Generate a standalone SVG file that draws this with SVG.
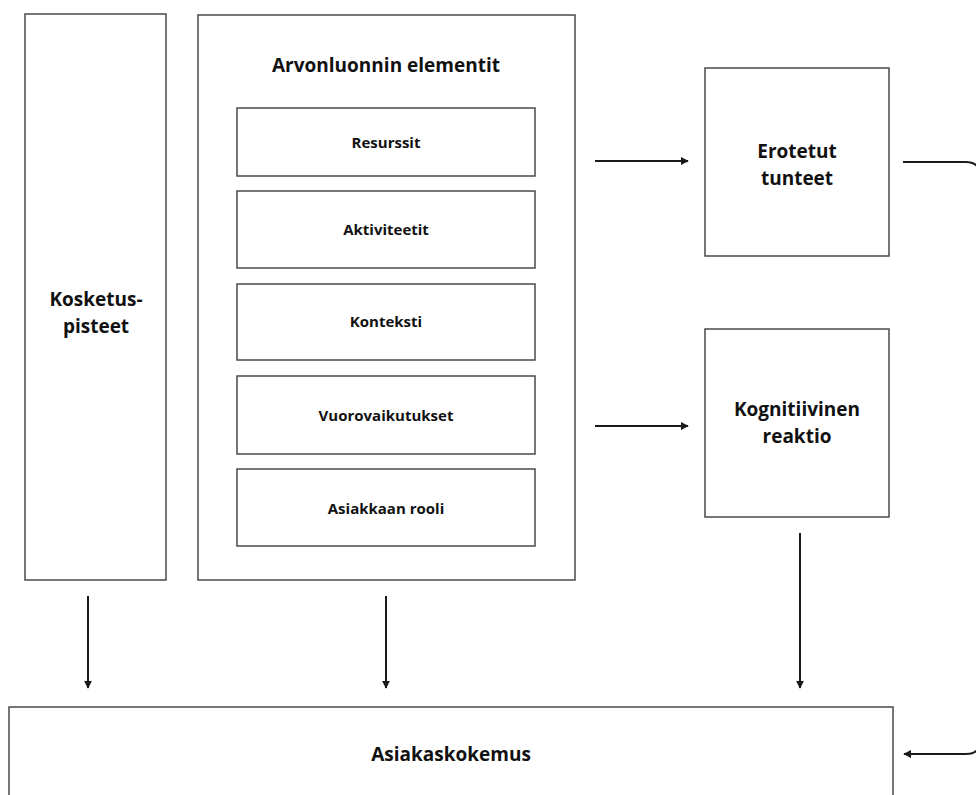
<svg xmlns="http://www.w3.org/2000/svg" width="976" height="795" viewBox="0 0 976 795">
  <style>
    .box { fill: #ffffff; stroke: #4a4a4a; stroke-width: 1.5; }
    .lbl { font-family: "Open Sans", "Liberation Sans", sans-serif; font-weight: bold; fill: #111111; text-anchor: middle; }
    .big { font-size: 19px; }
    .mid { font-size: 19px; }
    .small { font-size: 15px; }
    .conn { fill: none; stroke: #1a1a1a; stroke-width: 2; }
  </style>
  <defs>
    <marker id="arrow" viewBox="0 0 10 10" refX="9" refY="5" markerWidth="4" markerHeight="4" orient="auto" markerUnits="strokeWidth">
      <path d="M0,0 L10,5 L0,10 Z" fill="#1a1a1a"/>
    </marker>
  </defs>
  <rect width="976" height="795" fill="#ffffff"/>

  <g id="kosketuspisteet">
    <rect class="box" x="25" y="14" width="141" height="566"/>
    <text class="lbl big" x="96" y="306">Kosketus-</text>
    <text class="lbl big" x="96" y="333">pisteet</text>
  </g>

  <g id="arvonluonnin-elementit">
    <rect class="box" x="198" y="15" width="377" height="565"/>
    <text class="lbl big" x="386" y="72">Arvonluonnin elementit</text>
  </g>

  <g id="resurssit">
    <rect class="box" x="237" y="108" width="298" height="68"/>
    <text class="lbl small" x="386" y="148">Resurssit</text>
  </g>
  <g id="aktiviteetit">
    <rect class="box" x="237" y="191" width="298" height="77"/>
    <text class="lbl small" x="386" y="235">Aktiviteetit</text>
  </g>
  <g id="konteksti">
    <rect class="box" x="237" y="284" width="298" height="76"/>
    <text class="lbl small" x="386" y="327">Konteksti</text>
  </g>
  <g id="vuorovaikutukset">
    <rect class="box" x="237" y="376" width="298" height="78"/>
    <text class="lbl small" x="386" y="421">Vuorovaikutukset</text>
  </g>
  <g id="asiakkaan-rooli">
    <rect class="box" x="237" y="469" width="298" height="77"/>
    <text class="lbl small" x="386" y="514">Asiakkaan rooli</text>
  </g>

  <g id="erotetut-tunteet">
    <rect class="box" x="705" y="68" width="184" height="188"/>
    <text class="lbl big" x="797" y="158">Erotetut</text>
    <text class="lbl big" x="797" y="185">tunteet</text>
  </g>

  <g id="kognitiivinen-reaktio">
    <rect class="box" x="705" y="329" width="184" height="188"/>
    <text class="lbl big" x="797" y="416">Kognitiivinen</text>
    <text class="lbl big" x="797" y="443">reaktio</text>
  </g>

  <g id="asiakaskokemus">
    <rect class="box" x="9" y="707" width="884" height="100"/>
    <text class="lbl mid" x="451" y="761">Asiakaskokemus</text>
  </g>

  <g id="connectors">
    <line class="conn" x1="595" y1="161" x2="688" y2="161" marker-end="url(#arrow)"/>
    <line class="conn" x1="595" y1="426" x2="688" y2="426" marker-end="url(#arrow)"/>
    <line class="conn" x1="88" y1="596" x2="88" y2="688" marker-end="url(#arrow)"/>
    <line class="conn" x1="386" y1="596" x2="386" y2="688" marker-end="url(#arrow)"/>
    <line class="conn" x1="800" y1="533" x2="800" y2="688" marker-end="url(#arrow)"/>
    <path class="conn" d="M903,162 H966 Q980,162 980,176 V741 Q980,754 966,754 H904" marker-end="url(#arrow)"/>
  </g>
</svg>
